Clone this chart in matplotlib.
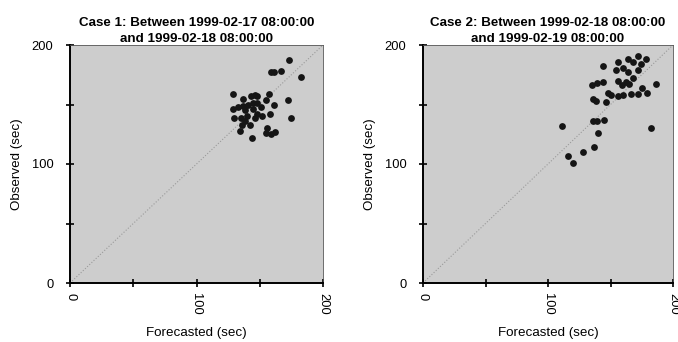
import matplotlib
matplotlib.use("Agg")
import matplotlib.pyplot as plt

plt.rcParams['font.family'] = ['Liberation Sans', 'DejaVu Sans']

titles = ["Case 1: Between 1999-02-17 08:00:00\nand 1999-02-18 08:00:00",
          "Case 2: Between 1999-02-18 08:00:00\nand 1999-02-19 08:00:00"]
xlabel = "Forecasted (sec)"
ylabel = "Observed (sec)"
ticks = [0, 50, 100, 150, 200]
tick_labels = ["0", "", "100", "", "200"]

case1_forecast = [173, 159, 161, 167, 183,
                  129, 137, 143, 146, 148, 157, 155, 172,
                  129, 133, 137, 141, 145, 148, 151, 161,
                  138, 145, 130, 135, 146, 148, 152, 158, 175,
                  136, 142, 134, 156, 155, 159, 162, 144, 138, 140]
case1_observed = [187, 177, 177, 178, 173,
                  159, 155, 157, 158, 157, 159, 154, 154,
                  146, 148, 149, 150, 151, 151, 148, 150,
                  145, 146, 139, 139, 139, 142, 140, 142, 139,
                  133, 133, 128, 130, 126, 125, 127, 122, 136, 140]

case2_forecast = [144, 156, 154, 164, 168, 172, 178, 174, 160, 164, 172, 168,
                  156, 162, 159, 165, 186, 175, 179, 172, 166, 160, 156, 148,
                  150, 135, 139, 144, 136, 138, 146, 136, 139, 145, 140, 111,
                  182, 137, 128, 116, 120]
case2_observed = [182, 186, 179, 188, 186, 191, 188, 184, 181, 177, 179, 172,
                  170, 169, 166, 167, 167, 164, 160, 159, 159, 158, 157, 160,
                  158, 166, 168, 169, 155, 153, 152, 136, 136, 137, 126, 132,
                  130, 114, 110, 107, 101]

cases = [(case1_forecast, case1_observed), (case2_forecast, case2_observed)]

fig = plt.figure(figsize=(6.78, 3.42), dpi=100)
W, H = 678, 342
lefts = [70, 423]
widths = [253, 250]
for i, (fx, ob) in enumerate(cases):
    ax = fig.add_axes([lefts[i] / W, (H - 283) / H, widths[i] / W, 238 / H])
    ax.set_facecolor('#cdcdcd')
    ax.plot([0, 200], [0, 200], linestyle=':', color='#9a9a9a', linewidth=0.8, zorder=1)
    ax.scatter(fx, ob, s=24, color='#151515', zorder=3, linewidths=0)
    ax.set_xlim(0, 200)
    ax.set_ylim(0, 200)
    ax.set_xticks(ticks)
    ax.set_yticks(ticks)
    ax.set_xticklabels(tick_labels, rotation=-90, fontsize=9.3)
    ax.set_yticklabels(tick_labels, fontsize=9.3)
    ax.tick_params(direction='inout', length=6, width=1.2)
    ax.tick_params(axis='x', pad=4)
    ax.tick_params(axis='y', pad=9)
    for s in ['left', 'bottom']:
        ax.spines[s].set_linewidth(1.4)
        ax.spines[s].set_color('black')
    for s in ['top', 'right']:
        ax.spines[s].set_linewidth(0.6)
        ax.spines[s].set_color('#555555')
    ax.set_xlabel(xlabel, fontsize=9.6, labelpad=9)
    ax.set_ylabel(ylabel, fontsize=9.6, labelpad=6)
    ax.set_title(titles[i], fontsize=9.6, fontweight='bold', linespacing=1.45, pad=2)

fig.savefig("out.png", dpi=100)
